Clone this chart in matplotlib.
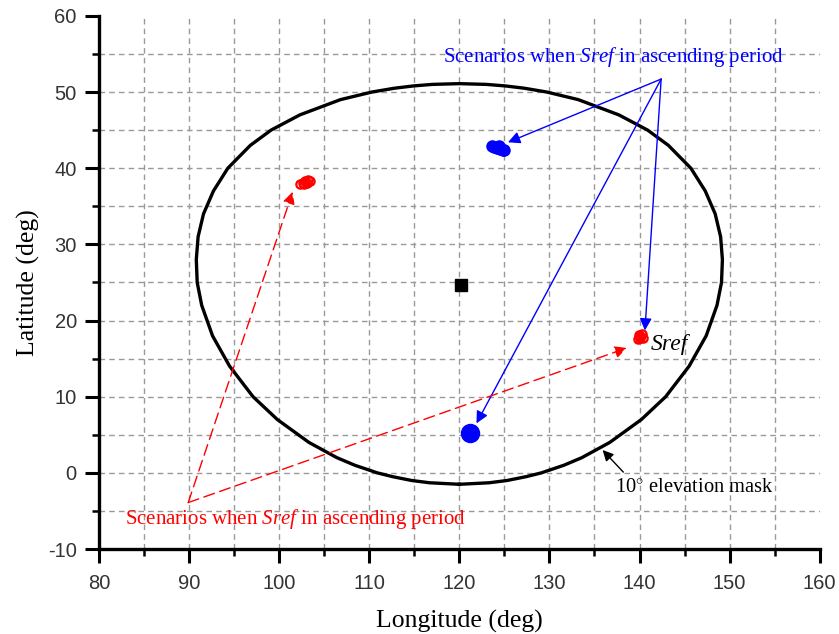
import matplotlib
matplotlib.use("Agg")
import matplotlib.pyplot as plt

# ---- data ----
# 10 deg elevation mask (lon, lat) traced around the footprint
mask_lon = [120.0, 123.3, 125.3, 127.4, 129.1, 131.6, 133.6, 136.7, 140.2, 142.9,
            145.5, 147.4, 148.6, 149.1, 149.2, 149.0, 148.4, 147.3, 145.7, 143.2,
            140.9, 137.7, 133.2, 129.7, 127.2, 125.1, 123.0, 120.0,
            117.0, 114.9, 112.8, 110.3, 106.8, 102.3, 99.1, 96.8, 94.3, 92.7,
            91.6, 91.0, 90.8, 90.9, 91.4, 92.6, 94.5, 97.1, 99.8, 103.3,
            106.4, 108.4, 110.9, 112.6, 114.7, 116.7, 120.0]
mask_lat = [-1.5, -1.3, -1.0, -0.5, 0.0, 1.0, 2.0, 4.0, 7.0, 10.0,
            14.0, 18.0, 22.0, 25.0, 28.0, 31.0, 34.0, 37.0, 40.0, 43.0,
            45.0, 47.0, 49.0, 50.0, 50.5, 50.8, 51.0, 51.1,
            51.0, 50.8, 50.5, 50.0, 49.0, 47.0, 45.0, 43.0, 40.0, 37.0,
            34.0, 31.0, 28.0, 25.0, 22.0, 18.0, 14.0, 10.0, 7.0, 4.0,
            2.0, 1.0, 0.0, -0.5, -1.0, -1.3, -1.5]

center_lon, center_lat = 120.2, 24.7

# blue scenarios (filled)
blue_a_lon = [123.6, 123.9, 124.2, 124.5, 124.8, 125.0, 124.4]
blue_a_lat = [42.9, 42.8, 42.7, 42.5, 42.4, 42.4, 42.9]
blue_b_lon = [121.2]
blue_b_lat = [5.2]

# red scenarios (open symbols)
red_a_lon = [102.3, 102.6, 102.9, 103.2, 103.4, 102.8, 103.1]
red_a_lat = [37.9, 38.1, 38.3, 38.4, 38.3, 37.9, 38.0]
red_b_lon = [139.8, 140.1, 140.4, 139.9, 140.3, 140.1]
red_b_lat = [17.6, 17.7, 17.7, 18.1, 18.2, 18.0]

blue_apex = (142.4, 51.7)
blue_tips = [(125.4, 43.4), (140.6, 18.7), (121.9, 6.5)]
red_apex = (89.9, -3.9)
red_tips = [(101.5, 36.9), (138.6, 16.4)]

xticks = [80, 90, 100, 110, 120, 130, 140, 150, 160]
yticks = [-10, 0, 10, 20, 30, 40, 50, 60]
xminor = [85, 95, 105, 115, 125, 135, 145, 155]
yminor = [-5, 5, 15, 25, 35, 45, 55]
grid_x = [85, 90, 95, 100, 105, 110, 115, 120, 125, 130, 135, 140, 145, 150, 155]
grid_y = [-5, 0, 5, 10, 15, 20, 25, 30, 35, 40, 45, 50, 55]

plt.rcParams.update({
    "mathtext.fontset": "custom",
    "mathtext.rm": "Liberation Serif",
    "mathtext.it": "Liberation Serif:italic",
    "axes.unicode_minus": False,
})
SERIF = "Liberation Serif"

fig = plt.figure(figsize=(8.39, 6.34), dpi=100)
ax = fig.add_axes([0.118, 0.134, 0.859, 0.841])

# dashed grid, not on the axis limits
for v in grid_x:
    ax.axvline(v, color="#999999", lw=1, ls=(0, (4, 3)), zorder=0)
for v in grid_y:
    ax.axhline(v, color="#999999", lw=1, ls=(0, (4, 3)), zorder=0)

ax.plot(mask_lon, mask_lat, color="black", lw=2.4, zorder=3)
ax.plot([center_lon], [center_lat], "s", color="black", ms=8, zorder=4)

ax.plot(blue_a_lon, blue_a_lat, "o", color="blue", ms=8, zorder=4)
ax.plot(blue_b_lon, blue_b_lat, "o", color="blue", ms=13, zorder=4)
ax.plot(red_a_lon, red_a_lat, "o", mfc="none", mec="red", mew=1.6, ms=6, zorder=4)
ax.plot(red_b_lon, red_b_lat, "o", mfc="none", mec="red", mew=1.6, ms=6, zorder=4)

# arrows from the labels
for tip in blue_tips:
    ax.annotate("", xy=tip, xytext=blue_apex,
                arrowprops=dict(arrowstyle="-|>", color="blue", lw=1,
                                mutation_scale=18, shrinkA=0, shrinkB=0), zorder=5)
for tip in red_tips:
    ax.annotate("", xy=tip, xytext=red_apex,
                arrowprops=dict(arrowstyle="-|>", color="red", lw=1, ls=(0, (8, 4)),
                                mutation_scale=18, shrinkA=0, shrinkB=0), zorder=5)
ax.annotate("", xy=(135.9, 3.0), xytext=(138.2, 0.1),
            arrowprops=dict(arrowstyle="-|>", color="black", lw=1,
                            mutation_scale=16, shrinkA=0, shrinkB=0), zorder=5)

ax.text(137.1, 54.6, r"Scenarios when $\mathit{Sref}$ in ascending period",
        color="blue", fontsize=15, family=SERIF, ha="center", va="center")
ax.text(101.8, -6.1, r"Scenarios when $\mathit{Sref}$ in ascending period",
        color="red", fontsize=15, family=SERIF, ha="center", va="center")
ax.text(141.2, 16.8, "Sref", style="italic", color="black", fontsize=17,
        family=SERIF, ha="left", va="center")
ax.text(137.3, -1.9, r"10$^{\circ}$ elevation mask", color="black", fontsize=14.8,
        family=SERIF, ha="left", va="center")

ax.set_xlim(80, 160)
ax.set_ylim(-10, 60)
ax.set_xticks(xticks)
ax.set_yticks(yticks)
ax.set_xticks(xminor, minor=True)
ax.set_yticks(yminor, minor=True)
for s in ("top", "right"):
    ax.spines[s].set_visible(False)
for s in ("left", "bottom"):
    ax.spines[s].set_linewidth(2.4)
ax.tick_params(which="major", direction="out", length=10, width=2.2,
               labelsize=14.5, labelcolor="#333333")
ax.tick_params(which="minor", direction="out", length=5, width=1.8)
ax.tick_params(axis="y", which="major", pad=6)
ax.tick_params(axis="x", which="major", pad=8)
for lab in ax.get_xticklabels() + ax.get_yticklabels():
    lab.set_family("Liberation Sans")

ax.set_xlabel("Longitude (deg)", fontsize=18.5, family=SERIF, labelpad=12)
ax.set_ylabel("Latitude (deg)", fontsize=18.5, family=SERIF, labelpad=6)

fig.savefig("out.png", dpi=100)
